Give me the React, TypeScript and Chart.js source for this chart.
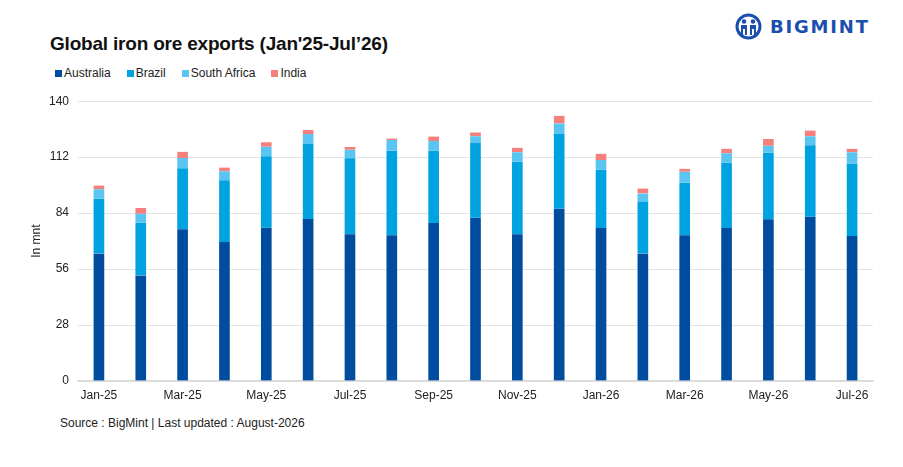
import React, { useEffect, useRef } from "react";
import { Chart, registerables } from "chart.js";

Chart.register(...registerables);

const categories = [
  "Jan-25", "Feb-25", "Mar-25", "Apr-25", "May-25", "Jun-25", "Jul-25", "Aug-25", "Sep-25", "Oct-25",
  "Nov-25", "Dec-25", "Jan-26", "Feb-26", "Mar-26", "Apr-26", "May-26", "Jun-26", "Jul-26",
];
const australia = [63.8, 52.8, 75.9, 69.6, 76.7, 81.1, 73.4, 72.9, 79.0, 81.7, 73.4, 86.2, 76.5, 63.8, 72.9, 76.5, 80.9, 82.2, 72.5];
const brazil = [27.5, 26.4, 30.6, 30.9, 35.7, 37.5, 38.0, 42.3, 36.2, 37.4, 36.3, 37.7, 29.2, 25.8, 26.4, 32.7, 33.3, 35.7, 36.3];
const southAfrica = [4.7, 4.5, 5.1, 4.5, 4.8, 5.0, 4.3, 5.4, 4.9, 3.3, 4.7, 5.0, 4.9, 4.2, 5.4, 4.7, 3.5, 4.5, 5.6];
const india = [1.8, 2.9, 3.1, 1.8, 2.2, 2.0, 1.4, 0.7, 2.2, 2.0, 2.3, 3.8, 3.1, 2.5, 1.5, 2.3, 3.4, 2.9, 1.8];
const yTicks = [0, 28, 56, 84, 112, 140];

const seriesNames = ["Australia", "Brazil", "South Africa", "India"];
const seriesColors = ["#004C9F", "#00A3E0", "#5BC5F2", "#F47F7B"];
const seriesValues = [australia, brazil, southAfrica, india];

const FONT = "'Liberation Sans', Arial, sans-serif";

export default function App() {
  const canvasRef = useRef<HTMLCanvasElement | null>(null);

  useEffect(() => {
    if (!canvasRef.current) return;
    const chart = new Chart(canvasRef.current, {
      type: "bar",
      data: {
        labels: categories,
        datasets: seriesNames.map((name, i) => ({
          label: name,
          data: seriesValues[i],
          backgroundColor: seriesColors[i],
          borderColor: "rgba(255,255,255,0.35)",
          borderWidth: { left: 1, right: 1, top: 0, bottom: 0 },
          borderSkipped: false,
          barThickness: 12,
        })),
      },
      options: {
        animation: false,
        responsive: false,
        maintainAspectRatio: false,
        layout: { padding: { top: 5, right: 30, bottom: 0, left: 0 } },
        plugins: {
          legend: { display: false },
          title: { display: false },
          tooltip: { enabled: false },
        },
        scales: {
          x: {
            stacked: true,
            grid: { display: false, drawTicks: false },
            border: { display: true, color: "#d9d9d9", width: 1.5 },
            ticks: {
              autoSkip: false,
              maxRotation: 0,
              padding: 7,
              color: "#222",
              font: { family: FONT, size: 12 },
              callback: (_v: any, i: number) => (i % 2 === 0 ? categories[i] : ""),
            },
            afterFit: (scale: any) => {
              scale.height = 30;
            },
          },
          y: {
            stacked: true,
            min: 0,
            max: 140,
            afterBuildTicks: (scale: any) => {
              scale.ticks = yTicks.map((v) => ({ value: v }));
            },
            grid: { color: "#e3e3e3", lineWidth: 1, drawTicks: false },
            border: { display: false },
            ticks: {
              padding: 9,
              color: "#222",
              font: { family: FONT, size: 12 },
            },
            title: {
              display: true,
              text: "In mnt",
              color: "#222",
              font: { family: FONT, size: 12 },
              padding: { top: 29, bottom: 0 },
            },
            afterFit: (scale: any) => {
              scale.width = 78;
            },
          },
        },
      },
    });
    return () => chart.destroy();
  }, []);

  return (
    <div
      style={{
        position: "fixed",
        left: 0,
        top: 0,
        width: 903,
        height: 467,
        background: "#fff",
        fontFamily: FONT,
        overflow: "hidden",
      }}
    >
      <div
        style={{
          position: "absolute",
          left: 50,
          top: 33,
          fontSize: 19,
          fontWeight: 700,
          letterSpacing: -0.2,
          color: "#111",
          whiteSpace: "nowrap",
        }}
      >
        Global iron ore exports (Jan'25-Jul’26)
      </div>

      <div style={{ position: "absolute", left: 735, top: 13, display: "flex", alignItems: "center" }}>
        <svg width="27" height="27" viewBox="0 0 27 27">
          <circle cx="13.5" cy="13.5" r="11.5" fill="none" stroke="#1B4FAE" strokeWidth="3" />
          <circle cx="9" cy="8.5" r="2.3" fill="#1B4FAE" />
          <circle cx="18" cy="8.5" r="2.3" fill="#1B4FAE" />
          <path d="M6 12 h6 v10 h-2 v-6 h-2 v6 h-2 z" fill="#1B4FAE" />
          <path d="M15 12 h6 v10 h-2 v-6 h-2 v6 h-2 z" fill="#1B4FAE" />
        </svg>
        <span
          style={{
            marginLeft: 8,
            fontSize: 18,
            fontWeight: 700,
            color: "#1B4FAE",
            letterSpacing: 1.8,
            fontFamily: "'DejaVu Sans', sans-serif",
          }}
        >
          BIGMINT
        </span>
      </div>

      <div
        style={{
          position: "absolute",
          left: 55,
          top: 66,
          display: "flex",
          alignItems: "center",
          fontSize: 12,
          color: "#222",
          whiteSpace: "nowrap",
        }}
      >
        {seriesNames.map((name, i) => (
          <div key={name} style={{ display: "flex", alignItems: "center", marginRight: 16 }}>
            <span
              style={{
                display: "inline-block",
                width: 7,
                height: 7,
                background: seriesColors[i],
                marginRight: 2,
              }}
            />
            <span>{name}</span>
          </div>
        ))}
      </div>

      <canvas
        ref={canvasRef}
        width={903}
        height={326}
        style={{ position: "absolute", left: 0, top: 85, width: 903, height: 326 }}
      />

      <div
        style={{
          position: "absolute",
          left: 60,
          top: 416,
          fontSize: 12,
          color: "#222",
          whiteSpace: "nowrap",
        }}
      >
        Source : BigMint | Last updated : August-2026
      </div>
    </div>
  );
}
